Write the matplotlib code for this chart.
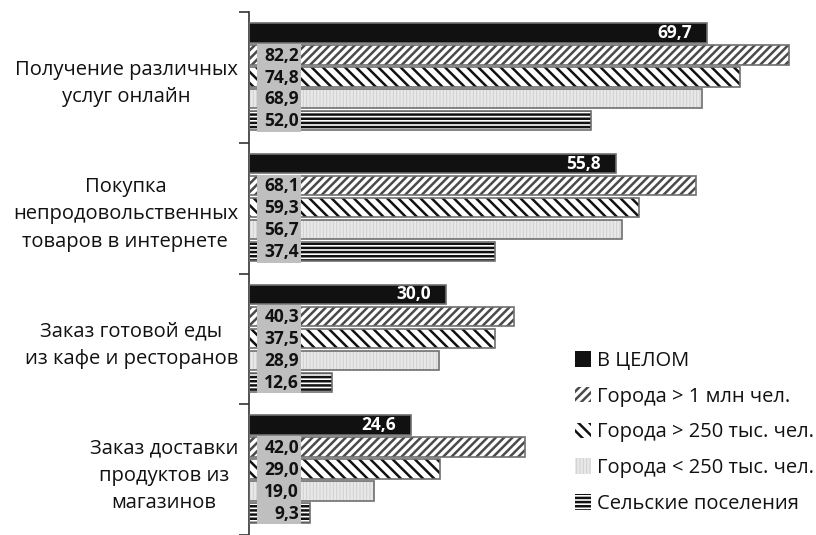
import matplotlib
matplotlib.use("Agg")
import matplotlib.pyplot as plt
import numpy as np

plt.rcParams['font.family'] = ['Open Sans', 'DejaVu Sans']

# categories (top to bottom) and series values
categories = [
    "Получение различных\nуслуг онлайн",
    "Покупка\nнепродовольственных\nтоваров в интернете",
    "Заказ готовой еды\nиз кафе и ресторанов",
    "Заказ доставки\nпродуктов из\nмагазинов",
]
series_names = ["В ЦЕЛОМ", "Города > 1 млн чел.", "Города > 250 тыс. чел.",
                "Города < 250 тыс. чел.", "Сельские поселения"]
total = [69.7, 55.8, 30.0, 24.6]
city_1m = [82.2, 68.1, 40.3, 42.0]
city_250_plus = [74.8, 59.3, 37.5, 29.0]
city_250_minus = [68.9, 56.7, 28.9, 19.0]
rural = [52.0, 37.4, 12.6, 9.3]

series = [total, city_1m, city_250_plus, city_250_minus, rural]

# looks: face, hatch, hatch colour
styles = [
    ("#111111", None, "#111111"),
    ("white", "////", "#4a4a4a"),
    ("white", "\\\\\\", "#111111"),
    ("#cccccc", "|||||", "#e8e8e8"),
    ("white", "----", "#111111"),
]

fig = plt.figure(figsize=(8.16, 5.35), dpi=100)
ax = fig.add_axes([249 / 816, 0, 1 - 249 / 816, 523 / 535])

step = 0.168
bar_h = 0.148
y_base = np.arange(len(categories))
plt.rcParams['hatch.linewidth'] = 1.8

handles = []
for j, vals in enumerate(series):
    y = y_base - 0.34 + step * j
    face, hatch, hcol = styles[j]
    h = ax.barh(y, vals, height=bar_h, color=face, hatch=hatch,
                edgecolor=hcol, linewidth=0, label=series_names[j], zorder=2)
    handles.append(h)
    # gray outline
    ax.barh(y, vals, height=bar_h, facecolor="none", edgecolor="#6f6f6f",
            linewidth=1.2, zorder=3)
    if j == 0:
        for yy, v in zip(y, vals):
            ax.text(v - 2.3, yy, f"{v:.1f}".replace(".", ","), color="white",
                    fontsize=12.5, fontweight="bold", ha="right", va="center",
                    zorder=5)
    else:
        ax.barh(y, 6.7, left=1.2, height=step, color="#bfbfbf",
                linewidth=0, zorder=4)
        for yy, v in zip(y, vals):
            ax.text(7.6, yy + 0.005, f"{v:.1f}".replace(".", ","), color="#111111",
                    fontsize=12.5, fontweight="bold", ha="right", va="center",
                    zorder=5)

ax.set_xlim(0, 86.3)
ax.set_ylim(3.5 - 5 / 132, -0.5)

for s in ["top", "right", "bottom"]:
    ax.spines[s].set_visible(False)
ax.spines["left"].set_color("#333333")
ax.spines["left"].set_linewidth(1.2)
ax.set_xticks([])

ax.set_yticks(y_base)
ax.set_yticklabels(categories, fontsize=14.5, multialignment="center",
                   linespacing=1.5, color="#111111")
ax.tick_params(axis="y", which="major", length=0, pad=8)
ax.set_yticks(np.arange(-0.5, len(categories), 1.0), minor=True)
ax.tick_params(axis="y", which="minor", length=7, width=1.2, color="#333333")

leg = fig.legend(handles=handles, labels=series_names, loc="upper left",
                 bbox_to_anchor=(567 / 816, 1 - 343 / 535), frameon=False,
                 fontsize=14.5, handlelength=0.8, handleheight=0.8,
                 handletextpad=0.3, labelspacing=0.78, borderaxespad=0)
for t in leg.get_texts():
    t.set_color("#111111")

fig.savefig("out.png", dpi=100)
